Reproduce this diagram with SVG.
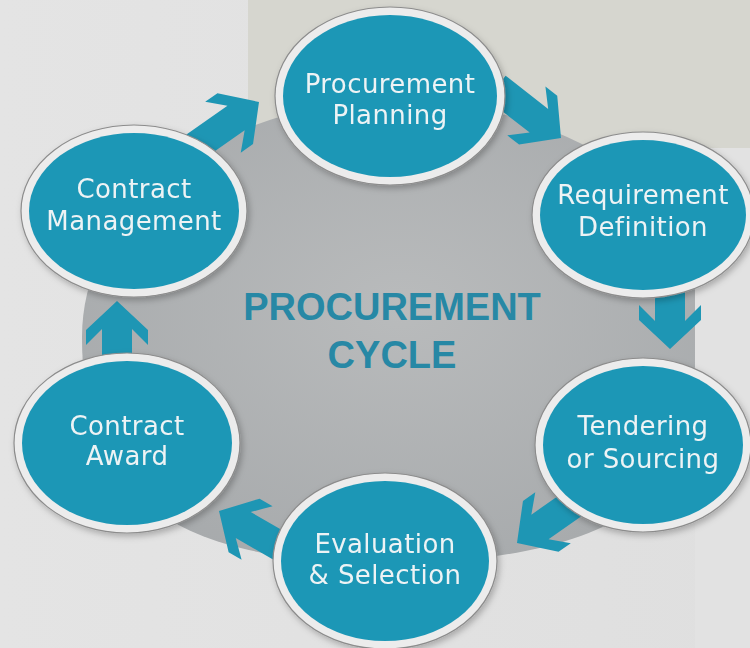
<svg xmlns="http://www.w3.org/2000/svg" width="750" height="648" viewBox="0 0 750 648">
  <style>
    .ring { fill: #ececec; stroke: #8c8c8c; stroke-width: 1.2; }
    .core { fill: #1e97b6; }
    .lbl { font-family: "DejaVu Sans", "Liberation Sans", sans-serif; font-size: 26px; fill: #edf3f5; text-anchor: middle; letter-spacing: 0.4px; }
    .title { font-family: "Liberation Sans", Arial, sans-serif; font-weight: bold; font-size: 38px; fill: #2788a5; text-anchor: middle; }
    .arrow { fill: #1e96b4; }
  </style>
  <defs>
    <radialGradient id="disk" cx="0.5" cy="0.45" r="0.6">
      <stop offset="0" stop-color="#b9bbbc"/>
      <stop offset="1" stop-color="#a7aaac"/>
    </radialGradient>
    <linearGradient id="bgL" x1="0" y1="0" x2="1" y2="0">
      <stop offset="0" stop-color="#e4e4e4"/>
      <stop offset="1" stop-color="#dfdfdf"/>
    </linearGradient>
    <clipPath id="clipDisk">
      <rect x="0" y="0" width="695" height="648"/>
    </clipPath>
    <filter id="sh" x="-20%" y="-20%" width="140%" height="140%">
      <feDropShadow dx="2" dy="3" stdDeviation="3" flood-color="#000" flood-opacity="0.25"/>
    </filter>
    <polygon id="arr" points="0,0 -29,31 -44,31 -28,15 -82,15 -82,-15 -28,-15 -44,-31 -29,-31"/>
  </defs>

  <!-- background -->
  <rect x="0" y="0" width="750" height="648" fill="url(#bgL)"/>
  <rect x="695" y="148" width="55" height="500" fill="#e2e2e2"/>
  <rect x="248" y="0" width="502" height="148" fill="#d6d6cf"/>

  <!-- central grey disk -->
  <path clip-path="url(#clipDisk)" fill="url(#disk)" d="M 82,337 C 82,200 230,100 395,100 C 560,100 720,200 720,330 C 720,480 630,563 385,563 C 140,563 82,470 82,337 Z"/>

  <!-- title -->
  <g id="title">
    <text class="title" x="392" y="320">PROCUREMENT</text>
    <text class="title" x="392" y="368">CYCLE</text>
  </g>

  <!-- connectors -->
  <g id="connectors">
    <use href="#arr" class="arrow" transform="translate(561,138) rotate(38)"/>
    <use href="#arr" class="arrow" transform="translate(670,349) rotate(90)"/>
    <use href="#arr" class="arrow" transform="translate(517,543) rotate(145)"/>
    <use href="#arr" class="arrow" transform="translate(219,511) rotate(210)"/>
    <use href="#arr" class="arrow" transform="translate(117,301) rotate(270)"/>
    <use href="#arr" class="arrow" transform="translate(259,102) rotate(-35)"/>
  </g>

  <!-- nodes -->
  <g id="node-planning" filter="url(#sh)">
    <ellipse class="ring" cx="390" cy="96" rx="115" ry="89"/>
    <ellipse class="core" cx="390" cy="96" rx="107" ry="81"/>
    <text class="lbl" x="390" y="93">Procurement</text>
    <text class="lbl" x="390" y="124">Planning</text>
  </g>
  <g id="node-requirement" filter="url(#sh)">
    <ellipse class="ring" cx="643" cy="215" rx="111" ry="83"/>
    <ellipse class="core" cx="643" cy="215" rx="103" ry="75"/>
    <text class="lbl" x="643" y="204">Requirement</text>
    <text class="lbl" x="643" y="236">Definition</text>
  </g>
  <g id="node-tendering" filter="url(#sh)">
    <ellipse class="ring" cx="643" cy="445" rx="108" ry="87"/>
    <ellipse class="core" cx="643" cy="445" rx="100" ry="79"/>
    <text class="lbl" x="643" y="435">Tendering</text>
    <text class="lbl" x="643" y="468">or Sourcing</text>
  </g>
  <g id="node-evaluation" filter="url(#sh)">
    <ellipse class="ring" cx="385" cy="561" rx="112" ry="88"/>
    <ellipse class="core" cx="385" cy="561" rx="104" ry="80"/>
    <text class="lbl" x="385" y="553">Evaluation</text>
    <text class="lbl" x="385" y="584">&amp; Selection</text>
  </g>
  <g id="node-award" filter="url(#sh)">
    <ellipse class="ring" cx="127" cy="443" rx="113" ry="90"/>
    <ellipse class="core" cx="127" cy="443" rx="105" ry="82"/>
    <text class="lbl" x="127" y="435">Contract</text>
    <text class="lbl" x="127" y="465">Award</text>
  </g>
  <g id="node-management" filter="url(#sh)">
    <ellipse class="ring" cx="134" cy="211" rx="113" ry="86"/>
    <ellipse class="core" cx="134" cy="211" rx="105" ry="78"/>
    <text class="lbl" x="134" y="198">Contract</text>
    <text class="lbl" x="134" y="230">Management</text>
  </g>
</svg>
